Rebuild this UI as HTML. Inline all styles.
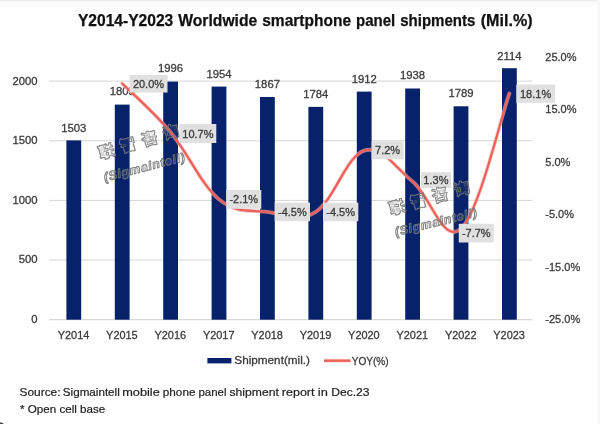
<!DOCTYPE html>
<html lang="en"><head><meta charset="utf-8"><title>Worldwide smartphone panel shipments</title>
<style>
html,body{margin:0;padding:0;background:#fff;}
body{width:600px;height:424px;overflow:hidden;}
svg{display:block;font-family:"Liberation Sans","Noto Sans CJK SC",sans-serif;}
.t{font-size:11.7px;fill:#3a3a3a;stroke:#3a3a3a;stroke-width:0.3px;}
.wm{font-family:"Liberation Sans","Noto Sans CJK SC",sans-serif;font-weight:bold;fill:#000;stroke:#000;stroke-width:1.0px;stroke-linejoin:round;}
.wmg{filter:url(#ol);}
</style></head><body>
<svg width="600" height="424" viewBox="0 0 600 424">
<defs><filter id="ol" x="-10%" y="-30%" width="120%" height="160%" color-interpolation-filters="sRGB">
<feMorphology in="SourceAlpha" operator="erode" radius="0.6" result="e"/>
<feComposite in="SourceAlpha" in2="e" operator="out" result="ring"/>
<feFlood flood-color="#767676" flood-opacity="0.9"/>
<feComposite in2="ring" operator="in"/>
</filter></defs>
<rect width="600" height="424" fill="#ffffff"/>
<g style="filter:blur(0.45px)">

<rect x="0" y="0" width="600" height="7" fill="#fcfcfc"/>
<rect x="0" y="0" width="600" height="1.3" fill="#ececec"/>
<rect x="597.3" y="0" width="2.7" height="424" fill="#f8f8f8"/>
<path d="M0 422.3 Q2.8 422.4 3.8 424 L0 424 Z" fill="#4a4a4a"/>
<text y="25.7" font-size="16.2" font-weight="bold" fill="#111" stroke="#111" stroke-width="0.25"><tspan x="77.9" textLength="95.4" lengthAdjust="spacingAndGlyphs">Y2014-Y2023</tspan> <tspan x="178.2" textLength="79.1" lengthAdjust="spacingAndGlyphs">Worldwide</tspan> <tspan x="262.2" textLength="88.9" lengthAdjust="spacingAndGlyphs">smartphone</tspan> <tspan x="356.1" textLength="39.2" lengthAdjust="spacingAndGlyphs">panel</tspan> <tspan x="400.2" textLength="75.1" lengthAdjust="spacingAndGlyphs">shipments</tspan> <tspan x="480.7" textLength="51.9" lengthAdjust="spacingAndGlyphs">(Mil.%)</tspan></text>
<line x1="49.3" x2="532.5" y1="260.05" y2="260.05" stroke="#d6d6d6" stroke-width="1"/>
<line x1="49.3" x2="532.5" y1="200.40" y2="200.40" stroke="#d6d6d6" stroke-width="1"/>
<line x1="49.3" x2="532.5" y1="140.75" y2="140.75" stroke="#d6d6d6" stroke-width="1"/>
<line x1="49.3" x2="532.5" y1="81.10" y2="81.10" stroke="#d6d6d6" stroke-width="1"/>
<line x1="49.3" x2="532.5" y1="319.70" y2="319.70" stroke="#cfcfcf" stroke-width="1"/>
<text class="t" x="37.6" y="322.8" text-anchor="end" textLength="6.3" lengthAdjust="spacingAndGlyphs">0</text>
<text class="t" x="37.6" y="263.4" text-anchor="end" textLength="18.9" lengthAdjust="spacingAndGlyphs">500</text>
<text class="t" x="37.6" y="203.9" text-anchor="end" textLength="25.1" lengthAdjust="spacingAndGlyphs">1000</text>
<text class="t" x="37.6" y="144.4" text-anchor="end" textLength="25.1" lengthAdjust="spacingAndGlyphs">1500</text>
<text class="t" x="37.6" y="85.0" text-anchor="end" textLength="25.1" lengthAdjust="spacingAndGlyphs">2000</text>
<text class="t" x="545.3" y="60.8" text-anchor="start" textLength="31.2" lengthAdjust="spacingAndGlyphs">25.0%</text>
<text class="t" x="545.3" y="113.2" text-anchor="start" textLength="31.2" lengthAdjust="spacingAndGlyphs">15.0%</text>
<text class="t" x="545.3" y="165.6" text-anchor="start" textLength="25.1" lengthAdjust="spacingAndGlyphs">5.0%</text>
<text class="t" x="545.3" y="218.1" text-anchor="start" textLength="28.7" lengthAdjust="spacingAndGlyphs">-5.0%</text>
<text class="t" x="545.3" y="270.5" text-anchor="start" textLength="34.9" lengthAdjust="spacingAndGlyphs">-15.0%</text>
<text class="t" x="545.3" y="322.9" text-anchor="start" textLength="34.9" lengthAdjust="spacingAndGlyphs">-25.0%</text>
<rect x="66.40" y="140.39" width="14.8" height="179.31" fill="#07226a"/>
<rect x="114.80" y="104.60" width="14.8" height="215.10" fill="#07226a"/>
<rect x="163.20" y="81.58" width="14.8" height="238.12" fill="#07226a"/>
<rect x="211.60" y="86.59" width="14.8" height="233.11" fill="#07226a"/>
<rect x="260.00" y="96.97" width="14.8" height="222.73" fill="#07226a"/>
<rect x="308.40" y="106.87" width="14.8" height="212.83" fill="#07226a"/>
<rect x="356.80" y="91.60" width="14.8" height="228.10" fill="#07226a"/>
<rect x="405.20" y="88.50" width="14.8" height="231.20" fill="#07226a"/>
<rect x="453.60" y="106.27" width="14.8" height="213.43" fill="#07226a"/>
<rect x="502.00" y="68.20" width="14.8" height="251.50" fill="#07226a"/>
<text class="t" x="73.8" y="131.9" text-anchor="middle" textLength="25.1" lengthAdjust="spacingAndGlyphs">1503</text>
<text class="t" x="122.2" y="95.3" text-anchor="middle" textLength="25.1" lengthAdjust="spacingAndGlyphs">1803</text>
<text class="t" x="170.6" y="71.6" text-anchor="middle" textLength="25.1" lengthAdjust="spacingAndGlyphs">1996</text>
<text class="t" x="219.0" y="78.1" text-anchor="middle" textLength="25.1" lengthAdjust="spacingAndGlyphs">1954</text>
<text class="t" x="267.4" y="88.3" text-anchor="middle" textLength="25.1" lengthAdjust="spacingAndGlyphs">1867</text>
<text class="t" x="315.8" y="98.2" text-anchor="middle" textLength="25.1" lengthAdjust="spacingAndGlyphs">1784</text>
<text class="t" x="364.2" y="82.6" text-anchor="middle" textLength="25.1" lengthAdjust="spacingAndGlyphs">1912</text>
<text class="t" x="412.6" y="79.2" text-anchor="middle" textLength="25.1" lengthAdjust="spacingAndGlyphs">1938</text>
<text class="t" x="461.0" y="97.3" text-anchor="middle" textLength="25.1" lengthAdjust="spacingAndGlyphs">1789</text>
<text class="t" x="509.4" y="59.7" text-anchor="middle" textLength="24.3" lengthAdjust="spacingAndGlyphs">2114</text>
<text class="t" x="73.5" y="338.8" text-anchor="middle" textLength="31.6" lengthAdjust="spacingAndGlyphs">Y2014</text>
<text class="t" x="121.9" y="338.8" text-anchor="middle" textLength="31.6" lengthAdjust="spacingAndGlyphs">Y2015</text>
<text class="t" x="170.3" y="338.8" text-anchor="middle" textLength="31.6" lengthAdjust="spacingAndGlyphs">Y2016</text>
<text class="t" x="218.7" y="338.8" text-anchor="middle" textLength="31.6" lengthAdjust="spacingAndGlyphs">Y2017</text>
<text class="t" x="267.1" y="338.8" text-anchor="middle" textLength="31.6" lengthAdjust="spacingAndGlyphs">Y2018</text>
<text class="t" x="315.5" y="338.8" text-anchor="middle" textLength="31.6" lengthAdjust="spacingAndGlyphs">Y2019</text>
<text class="t" x="363.9" y="338.8" text-anchor="middle" textLength="31.6" lengthAdjust="spacingAndGlyphs">Y2020</text>
<text class="t" x="412.3" y="338.8" text-anchor="middle" textLength="31.6" lengthAdjust="spacingAndGlyphs">Y2021</text>
<text class="t" x="460.7" y="338.8" text-anchor="middle" textLength="31.6" lengthAdjust="spacingAndGlyphs">Y2022</text>
<text class="t" x="509.1" y="338.8" text-anchor="middle" textLength="31.6" lengthAdjust="spacingAndGlyphs">Y2023</text>
<path d="M122.20 83.51 C131.16 92.54 152.67 110.81 170.60 132.26 C188.53 153.71 201.07 184.60 219.00 199.36 C236.93 214.11 249.47 209.61 267.40 211.94 C285.33 214.27 297.87 223.30 315.80 211.94 C333.73 200.58 346.27 156.24 364.20 150.61 C382.13 144.98 394.67 167.07 412.60 181.54 C430.53 196.00 443.07 245.02 461.00 228.71 C478.93 212.40 500.44 118.51 509.40 93.47" fill="none" stroke="#f6aaa4" stroke-opacity="0.65" stroke-width="3.8" stroke-linecap="round" stroke-linejoin="round"/>
<path d="M122.20 83.51 C131.16 92.54 152.67 110.81 170.60 132.26 C188.53 153.71 201.07 184.60 219.00 199.36 C236.93 214.11 249.47 209.61 267.40 211.94 C285.33 214.27 297.87 223.30 315.80 211.94 C333.73 200.58 346.27 156.24 364.20 150.61 C382.13 144.98 394.67 167.07 412.60 181.54 C430.53 196.00 443.07 245.02 461.00 228.71 C478.93 212.40 500.44 118.51 509.40 93.47" fill="none" stroke="#ec605a" stroke-width="2.2" stroke-linecap="round" stroke-linejoin="round"/>
<rect x="129.5" y="75.0" width="38.0" height="17.5" fill="#e0e0e0"/>
<text class="t" style="font-size:11.1px" x="148.5" y="87.8" text-anchor="middle" textLength="31.2" lengthAdjust="spacingAndGlyphs">20.0%</text>
<rect x="179.5" y="124.0" width="36.8" height="19.0" fill="#e0e0e0"/>
<text class="t" style="font-size:11.1px" x="197.9" y="137.5" text-anchor="middle" textLength="31.2" lengthAdjust="spacingAndGlyphs">10.7%</text>
<rect x="226.3" y="190.0" width="35.0" height="18.8" fill="#e0e0e0"/>
<text class="t" style="font-size:11.1px" x="243.8" y="203.4" text-anchor="middle" textLength="28.7" lengthAdjust="spacingAndGlyphs">-2.1%</text>
<rect x="274.7" y="202.6" width="35.3" height="18.6" fill="#e0e0e0"/>
<text class="t" style="font-size:11.1px" x="292.4" y="215.9" text-anchor="middle" textLength="28.7" lengthAdjust="spacingAndGlyphs">-4.5%</text>
<rect x="323.0" y="202.6" width="35.3" height="18.6" fill="#e0e0e0"/>
<text class="t" style="font-size:11.1px" x="340.6" y="215.9" text-anchor="middle" textLength="28.7" lengthAdjust="spacingAndGlyphs">-4.5%</text>
<rect x="371.7" y="141.3" width="31.8" height="18.0" fill="#e0e0e0"/>
<text class="t" style="font-size:11.1px" x="387.6" y="154.3" text-anchor="middle" textLength="25.1" lengthAdjust="spacingAndGlyphs">7.2%</text>
<rect x="420.9" y="172.2" width="30.1" height="15.8" fill="#e0e0e0"/>
<text class="t" style="font-size:11.1px" x="435.9" y="184.1" text-anchor="middle" textLength="25.1" lengthAdjust="spacingAndGlyphs">1.3%</text>
<rect x="458.8" y="223.8" width="35.0" height="18.7" fill="#e0e0e0"/>
<text class="t" style="font-size:11.1px" x="476.3" y="237.2" text-anchor="middle" textLength="28.7" lengthAdjust="spacingAndGlyphs">-7.7%</text>
<rect x="516.3" y="84.5" width="38.7" height="18.3" fill="#e0e0e0"/>
<text class="t" style="font-size:11.1px" x="535.6" y="97.7" text-anchor="middle" textLength="31.2" lengthAdjust="spacingAndGlyphs">18.1%</text>
<g class="wmg">
<text class="wm" transform="translate(100.3 159.4) rotate(-16.5)" font-size="16.5" letter-spacing="5.9">联智咨询</text>
<text class="wm" transform="translate(105.1 181.4) rotate(-14.3)" font-size="12.2" font-style="italic" textLength="83.0" lengthAdjust="spacing">(Sigmaintell)</text>
</g>
<g class="wmg">
<text class="wm" transform="translate(390.8 215.3) rotate(-16.0)" font-size="16.5" letter-spacing="5.9">联智咨询</text>
<text class="wm" transform="translate(396.0 235.9) rotate(-13.5)" font-size="12.2" font-style="italic" textLength="83.8" lengthAdjust="spacing">(Sigmaintell)</text>
</g>
<rect x="207.4" y="358.0" width="24.0" height="5.4" fill="#07226a"/>
<text class="t" x="234.3" y="364.3" textLength="75.7" lengthAdjust="spacingAndGlyphs">Shipment(mil.)</text>
<line x1="324" x2="350.4" y1="360.7" y2="360.7" stroke="#f6aaa4" stroke-opacity="0.6" stroke-width="3.8"/>
<line x1="324" x2="350.4" y1="360.7" y2="360.7" stroke="#ec605a" stroke-width="2.3"/>
<text class="t" x="351.7" y="365.0" textLength="37.0" lengthAdjust="spacingAndGlyphs">YOY(%)</text>
<text y="395.9" font-size="11.2" fill="#222" stroke="#222" stroke-width="0.2"><tspan x="19.5" textLength="41.0" lengthAdjust="spacingAndGlyphs">Source:</tspan> <tspan x="62.8" textLength="57.0" lengthAdjust="spacingAndGlyphs">Sigmaintell</tspan> <tspan x="122.2" textLength="37.6" lengthAdjust="spacingAndGlyphs">mobile</tspan> <tspan x="162.8" textLength="32.7" lengthAdjust="spacingAndGlyphs">phone</tspan> <tspan x="198.5" textLength="28.0" lengthAdjust="spacingAndGlyphs">panel</tspan> <tspan x="229.5" textLength="49.3" lengthAdjust="spacingAndGlyphs">shipment</tspan> <tspan x="281.8" textLength="32.7" lengthAdjust="spacingAndGlyphs">report</tspan> <tspan x="317.8" textLength="10.0" lengthAdjust="spacingAndGlyphs">in</tspan> <tspan x="331.2" textLength="38.3" lengthAdjust="spacingAndGlyphs">Dec.23</tspan></text>
<text x="20" y="412.5" font-size="11.2" fill="#222" stroke="#222" stroke-width="0.2" textLength="85.3" lengthAdjust="spacingAndGlyphs">* Open cell base</text>
</g></svg></body></html>
